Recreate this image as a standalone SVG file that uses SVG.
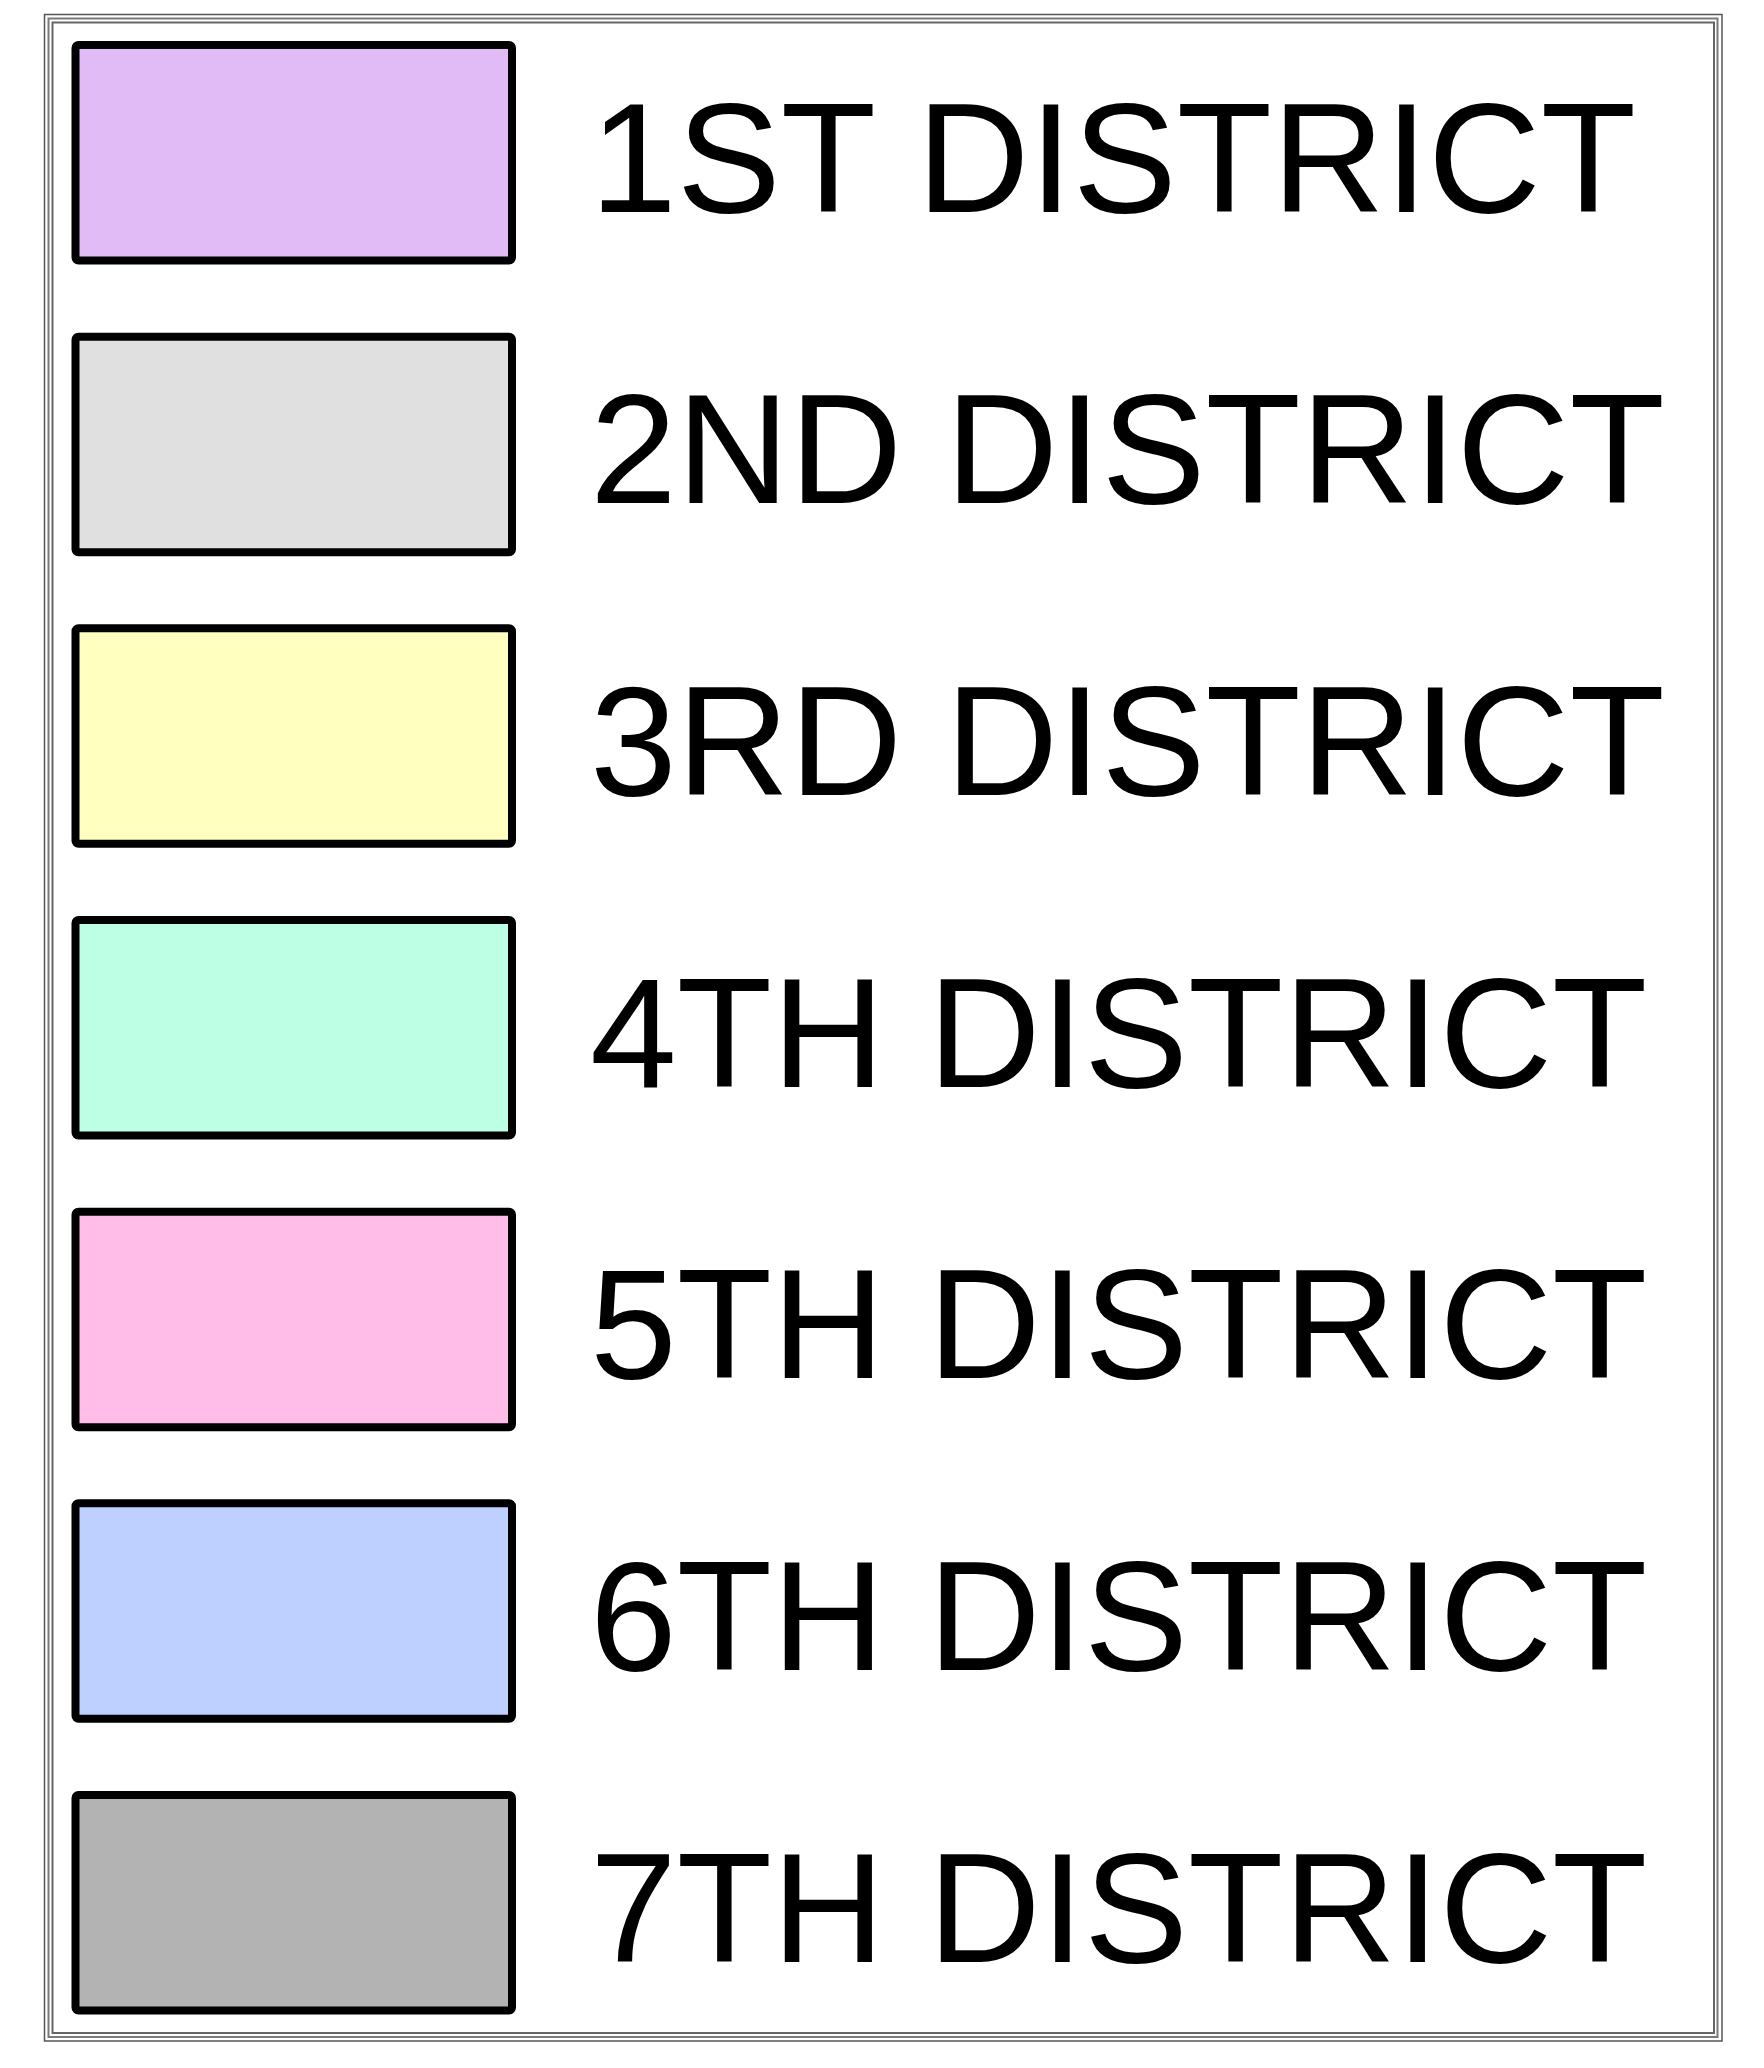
<svg xmlns="http://www.w3.org/2000/svg" width="1764" height="2068" viewBox="0 0 1764 2068">
<style>
.frame{fill:none}
.sw{stroke:#000;stroke-width:8;stroke-linejoin:round}
.lbl{font-family:"Liberation Sans",Arial,sans-serif;font-size:156px;fill:#000}
</style>
<rect width="1764" height="2068" fill="#fff"/>
<g id="frame">
<rect class="frame" x="44.5" y="14.5" width="1677.5" height="2026.5" stroke="#555" stroke-width="1.5"/>
<rect class="frame" x="48.5" y="18.5" width="1669" height="2018.5" stroke="#7a7a7a" stroke-width="2"/>
<rect class="frame" x="52.5" y="22.5" width="1661.5" height="2010.5" stroke="#666" stroke-width="2"/>
</g>
<g id="d1"><rect class="sw" x="75.5" y="45" width="436.5" height="215.5" rx="3" fill="#E0BBF5"/><text class="lbl" x="590" y="211.7">1ST DISTRICT</text></g>
<g id="d2"><rect class="sw" x="75.5" y="336.7" width="436.5" height="215.5" rx="3" fill="#E0E0E0"/><text class="lbl" x="590" y="503.4">2ND DISTRICT</text></g>
<g id="d3"><rect class="sw" x="75.5" y="628.3" width="436.5" height="215.5" rx="3" fill="#FFFFC0"/><text class="lbl" x="590" y="795">3RD DISTRICT</text></g>
<g id="d4"><rect class="sw" x="75.5" y="920" width="436.5" height="215.5" rx="3" fill="#BDFFE5"/><text class="lbl" x="590" y="1086.7">4TH DISTRICT</text></g>
<g id="d5"><rect class="sw" x="75.5" y="1211.7" width="436.5" height="215.5" rx="3" fill="#FFBDE8"/><text class="lbl" x="590" y="1378.4">5TH DISTRICT</text></g>
<g id="d6"><rect class="sw" x="75.5" y="1503.3" width="436.5" height="215.5" rx="3" fill="#BDD0FF"/><text class="lbl" x="590" y="1670">6TH DISTRICT</text></g>
<g id="d7"><rect class="sw" x="75.5" y="1795" width="436.5" height="215.5" rx="3" fill="#B3B3B3"/><text class="lbl" x="590" y="1961.7">7TH DISTRICT</text></g>
<g id="connectors"/>
</svg>
